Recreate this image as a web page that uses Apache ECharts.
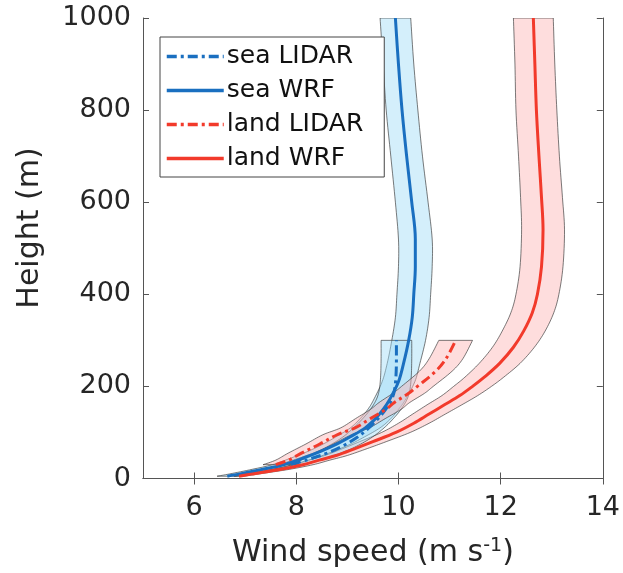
<!DOCTYPE html>
<html><head><meta charset="utf-8">
<script src="https://cdn.jsdelivr.net/npm/echarts@6/dist/echarts.min.js"></script>
<style>html,body{margin:0;padding:0;background:#fff}#c{width:623px;height:573px}</style>
</head><body><div id="c"></div><script>
// ---- data ----
const xTicks = [6, 8, 10, 12, 14];
const yTicks = [0, 200, 400, 600, 800, 1000];

const seaWrfHeight = [5, 10, 20, 30, 45, 60, 75, 90, 110, 130, 150, 170, 210, 250, 300, 350, 400, 460, 520, 600, 700, 800, 900, 1000];
const seaWrfSpeed  = [6.65, 6.9, 7.35, 7.75, 8.15, 8.5, 8.8, 9.05, 9.35, 9.55, 9.7, 9.82, 10.0, 10.1, 10.2, 10.27, 10.3, 10.33, 10.33, 10.26, 10.16, 10.07, 10.0, 9.94];
const seaWrfStd    = [0.2, 0.2, 0.21, 0.22, 0.24, 0.25, 0.27, 0.28, 0.29, 0.3, 0.3, 0.31, 0.32, 0.32, 0.33, 0.33, 0.33, 0.33, 0.33, 0.32, 0.31, 0.31, 0.3, 0.3];

const landWrfHeight = [5, 10, 20, 30, 40, 50, 65, 80, 100, 120, 140, 160, 180, 200, 220, 250, 285, 320, 360, 400, 460, 540, 610, 700, 800, 900, 1000];
const landWrfSpeed  = [6.88, 7.15, 7.7, 8.13, 8.45, 8.78, 9.15, 9.5, 9.95, 10.3, 10.6, 10.9, 11.2, 11.45, 11.68, 11.98, 12.25, 12.45, 12.62, 12.72, 12.8, 12.83, 12.8, 12.75, 12.7, 12.67, 12.64];
const landWrfStd    = [0.1, 0.13, 0.17, 0.2, 0.21, 0.22, 0.24, 0.26, 0.28, 0.3, 0.32, 0.34, 0.35, 0.37, 0.38, 0.4, 0.41, 0.42, 0.42, 0.42, 0.42, 0.42, 0.41, 0.4, 0.4, 0.39, 0.39];

const seaLidarHeight = [30, 40, 55, 70, 90, 110, 130, 150, 170, 190, 220, 260, 300];
const seaLidarSpeed  = [7.9, 8.2, 8.6, 8.9, 9.2, 9.42, 9.6, 9.75, 9.86, 9.92, 9.95, 9.96, 9.96];
const seaLidarStd    = [0.25, 0.26, 0.27, 0.28, 0.29, 0.3, 0.3, 0.3, 0.3, 0.3, 0.3, 0.3, 0.3];

const landLidarHeight = [30, 40, 55, 75, 95, 110, 130, 150, 165, 185, 200, 233, 260, 300];
const landLidarSpeed  = [7.6, 7.85, 8.1, 8.46, 8.8, 9.15, 9.45, 9.75, 9.92, 10.2, 10.37, 10.73, 10.93, 11.12];
const landLidarStd    = [0.25, 0.25, 0.26, 0.27, 0.28, 0.28, 0.29, 0.3, 0.3, 0.31, 0.31, 0.32, 0.33, 0.33];

// ---- styles ----
const FONT = 'DejaVu Sans';
const SEA = '#1a6fc0';
const LAND = '#f23a2b';
const SEA_FILL = 'rgba(160,220,247,0.45)';
const LAND_FILL = 'rgba(252,180,180,0.45)';
const DASHDOT = [10, 4, 3, 4];
const SMOOTH = 0.35;

function pairs(hs, xs) { return hs.map((h, i) => [xs[i], h]); }

// Catmull-Rom smoothing of an already projected pixel polyline (drawing only)
function smoothPx(pts) {
  if (pts.length < 3) return pts;
  const out = [];
  const n = pts.length;
  for (let i = 0; i < n - 1; i++) {
    const p0 = pts[Math.max(i - 1, 0)], p1 = pts[i], p2 = pts[i + 1], p3 = pts[Math.min(i + 2, n - 1)];
    const steps = 8;
    for (let s = 0; s < steps; s++) {
      const t = s / steps, t2 = t * t, t3 = t2 * t;
      const f = (a, b, c, d) => 0.5 * ((2 * b) + (-a + c) * t + (2 * a - 5 * b + 4 * c - d) * t2 + (-a + 3 * b - 3 * c + d) * t3);
      out.push([f(p0[0], p1[0], p2[0], p3[0]), f(p0[1], p1[1], p2[1], p3[1])]);
    }
  }
  out.push(pts[n - 1]);
  return out;
}

function band(hs, xs, sd, fill, z) {
  return {
    type: 'custom', silent: true, z: z, clip: true,
    xAxisIndex: 0, yAxisIndex: 0,
    data: [[9, 500]],
    renderItem: function (params, api) {
      const l = [], r = [];
      for (let i = 0; i < hs.length; i++) {
        l.push(api.coord([xs[i] - sd[i], hs[i]]));
        r.push(api.coord([xs[i] + sd[i], hs[i]]));
      }
      const left = smoothPx(l);
      const right = smoothPx(r).reverse();
      return { type: 'polygon', shape: { points: left.concat(right) },
        style: { fill: fill, stroke: 'rgba(60,60,60,0.85)', lineWidth: 0.8, lineJoin: 'round' } };
    }
  };
}

function line(name, hs, xs, color, type) {
  return {
    name: name, type: 'line', data: pairs(hs, xs), z: 5,
    symbol: 'none', showSymbol: false, smooth: SMOOTH,
    lineStyle: { color: color, width: 3, type: type },
    itemStyle: { color: color }
  };
}

const axisLineStyle = { color: '#555', width: 1 };
const tickStyle = { show: true, inside: true, length: 6, lineStyle: { color: '#555' } };

const chart = echarts.init(document.getElementById('c'), null, { renderer: 'canvas' });
chart.setOption({
  animation: false,
  backgroundColor: '#fff',
  grid: { left: 143, right: 19, top: 18, bottom: 91, containLabel: false },
  xAxis: [
    { type: 'value', min: 5, max: 14, position: 'bottom',
      axisLine: { show: true, lineStyle: axisLineStyle },
      axisTick: Object.assign({ customValues: xTicks }, tickStyle),
      axisLabel: { customValues: xTicks, margin: 16, fontSize: 27, fontFamily: FONT, color: '#262626' },
      splitLine: { show: false },
      name: 'Wind speed (m s{sup|-1})', nameLocation: 'middle', nameGap: 58,
      nameTextStyle: { fontSize: 30, fontFamily: FONT, color: '#262626',
        rich: { sup: { fontSize: 19, fontFamily: FONT, color: '#262626', verticalAlign: 'top', padding: [0, 0, 14, 0] } } } },
    { type: 'value', min: 5, max: 14, position: 'top',
      axisLine: { show: true, lineStyle: axisLineStyle },
      axisTick: Object.assign({ customValues: xTicks }, tickStyle),
      axisLabel: { show: false }, splitLine: { show: false } }
  ],
  yAxis: [
    { type: 'value', min: 0, max: 1000, interval: 200, position: 'left',
      axisLine: { show: true, lineStyle: axisLineStyle },
      axisTick: Object.assign({ customValues: yTicks }, tickStyle),
      axisLabel: { customValues: yTicks, margin: 12, fontSize: 27, fontFamily: FONT, color: '#262626',
        formatter: v => String(v) },
      splitLine: { show: false } },
    { type: 'value', min: 0, max: 1000, interval: 200, position: 'right',
      axisLine: { show: true, lineStyle: axisLineStyle },
      axisTick: Object.assign({ customValues: yTicks }, tickStyle),
      axisLabel: { show: false }, splitLine: { show: false } }
  ],
  legend: {
    data: ['sea LIDAR', 'sea WRF', 'land LIDAR', 'land WRF'],
    orient: 'vertical', left: 160, top: 37,
    backgroundColor: '#fff', borderColor: '#444', borderWidth: 1, borderRadius: 0,
    padding: [7, 21, 6, 5], itemWidth: 57, itemHeight: 14, itemGap: 9,
    itemStyle: { opacity: 0 },
    lineStyle: { width: 3.5 },
    textStyle: { fontSize: 25, lineHeight: 25, fontFamily: FONT, color: '#111', padding: [0, 0, 0, -2] }
  },
  graphic: [
    { type: 'text', x: 30, y: 228, rotation: Math.PI / 2,
      style: { text: 'Height (m)', font: '30px "DejaVu Sans"', fill: '#262626', align: 'center', verticalAlign: 'middle' } }
  ],
  series: [
    band(seaWrfHeight, seaWrfSpeed, seaWrfStd, SEA_FILL, 1),
    band(landWrfHeight, landWrfSpeed, landWrfStd, LAND_FILL, 1),
    band(seaLidarHeight, seaLidarSpeed, seaLidarStd, SEA_FILL, 2),
    band(landLidarHeight, landLidarSpeed, landLidarStd, LAND_FILL, 2),
    line('sea LIDAR', seaLidarHeight, seaLidarSpeed, SEA, DASHDOT),
    line('sea WRF', seaWrfHeight, seaWrfSpeed, SEA, 'solid'),
    line('land LIDAR', landLidarHeight, landLidarSpeed, LAND, DASHDOT),
    line('land WRF', landWrfHeight, landWrfSpeed, LAND, 'solid')
  ]
});
</script></body></html>
